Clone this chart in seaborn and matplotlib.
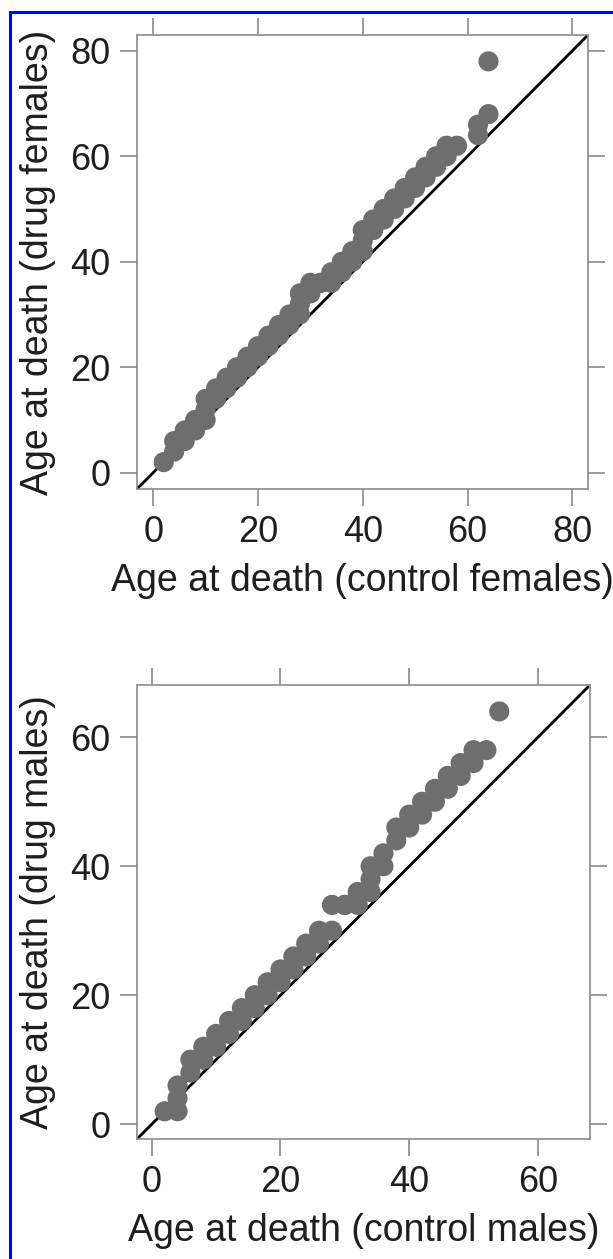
import numpy as np
import pandas as pd
import matplotlib
matplotlib.use("Agg")
import matplotlib.pyplot as plt
import seaborn as sns
from matplotlib.patches import Rectangle

# quantile pairs (age at death, days)
female_control = [2, 4, 4, 6, 6, 8, 8, 10, 10, 10, 12, 12, 14, 14, 16, 16, 18, 18, 20, 20,
                  22, 22, 24, 24, 26, 26, 28, 28, 28, 30, 30, 32, 32, 34, 34, 36, 36, 38, 38, 40,
                  40, 40, 42, 42, 44, 44, 46, 46, 48, 48, 50, 50, 52, 52, 54, 54, 56, 56, 58, 62,
                  62, 64, 64]
female_drug = [2, 4, 6, 6, 8, 8, 10, 10, 12, 14, 14, 16, 16, 18, 18, 20, 20, 22, 22, 24,
               24, 26, 26, 28, 28, 30, 30, 32, 34, 34, 36, 36, 36, 36, 38, 38, 40, 40, 42, 42,
               44, 46, 46, 48, 48, 50, 50, 52, 52, 54, 54, 56, 56, 58, 58, 60, 60, 62, 62, 64,
               66, 68, 78]

male_control = [2, 4, 4, 4, 6, 6, 8, 8, 10, 10, 12, 12, 14, 14, 16, 16, 18, 18, 20, 20,
                22, 22, 24, 24, 26, 26, 28, 28, 30, 30, 32, 32, 34, 34, 34, 36, 36, 38, 38, 40,
                40, 42, 42, 44, 44, 46, 46, 48, 48, 50, 50, 52, 54]
male_drug = [2, 2, 4, 6, 8, 10, 10, 12, 12, 14, 14, 16, 16, 18, 18, 20, 20, 22, 22, 24,
             24, 26, 26, 28, 28, 30, 30, 34, 34, 34, 34, 36, 36, 38, 40, 40, 42, 44, 46, 46,
             48, 48, 50, 50, 52, 52, 54, 54, 56, 56, 58, 58, 64]

female_ticks = [0, 20, 40, 60, 80]
male_ticks = [0, 20, 40, 60]

sns.set_style("ticks")
plt.rcParams['font.family'] = ['Liberation Sans', 'DejaVu Sans']

W, H = 613, 1259
fig = plt.figure(figsize=(W / 100, H / 100), dpi=100)

text_col = '#1e1e1e'
frame_col = '#8a8a8a'
pt_col = '#6e6e6e'


def qq_panel(rect, xs, ys, lims, ticks, xlabel, ylabel):
    ax = fig.add_axes(rect)
    df = pd.DataFrame({'x': xs, 'y': ys})
    ax.plot(lims, lims, color='black', lw=2.0, zorder=1)
    sns.scatterplot(data=df, x='x', y='y', ax=ax, s=210, color=pt_col,
                    edgecolor='none', linewidth=0, zorder=2)
    ax.set_xlim(lims)
    ax.set_ylim(lims)
    ax.set_xticks(ticks)
    ax.set_yticks(ticks)
    ax.tick_params(axis='both', which='both', direction='out', length=12, width=1.2,
                   color=frame_col, labelsize=26, labelcolor=text_col, pad=7,
                   top=True, right=True, labeltop=False, labelright=False)
    for sp in ax.spines.values():
        sp.set_visible(True)
        sp.set_color(frame_col)
        sp.set_linewidth(1.2)
    ax.set_xlabel(xlabel, fontsize=27, color=text_col, labelpad=9)
    ax.set_ylabel(ylabel, fontsize=27, color=text_col, labelpad=10)
    return ax


qq_panel([137 / W, (H - 489) / H, 451 / W, 454 / H],
         female_control, female_drug, (-3.1, 83.0), female_ticks,
         'Age at death (control females)', 'Age at death (drug females)')
qq_panel([137 / W, (H - 1139) / H, 453 / W, 454 / H],
         male_control, male_drug, (-2.3, 68.1), male_ticks,
         'Age at death (control males)', 'Age at death (drug males)')

# blue border of the original figure
fig.patches.append(Rectangle((10 / W, -0.05), 1.2, 1.05 - 12 / H, transform=fig.transFigure,
                             fill=False, edgecolor='#0000ff', lw=2.2))

fig.savefig('out.png', dpi=100)
